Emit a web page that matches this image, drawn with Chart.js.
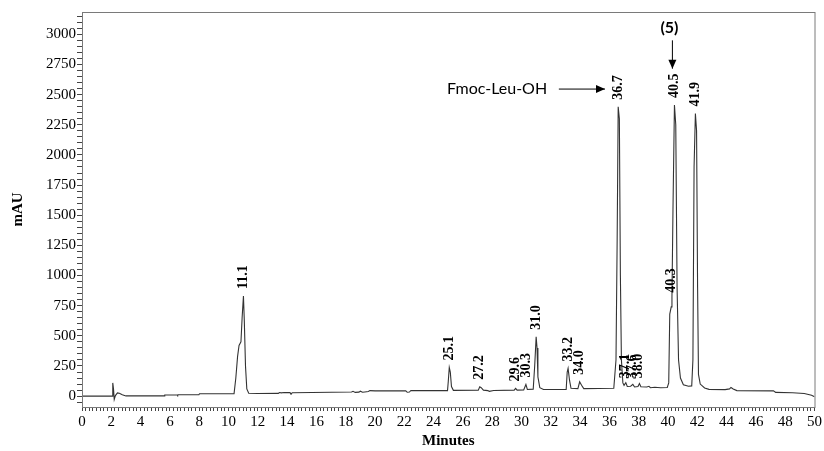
<!DOCTYPE html>
<html>
<head>
<meta charset="utf-8">
<script src="https://cdn.jsdelivr.net/npm/chart.js@4.4.0/dist/chart.umd.min.js"></script>
<style>
  html, body { margin: 0; padding: 0; background: #fff; }
</style>
</head>
<body>
<canvas id="chrom" width="824" height="451"></canvas>
<script>
// chromatogram trace (minutes / mAU)
const times = [
  0, 2.05, 2.1, 2.15, 2.2, 2.28, 2.42, 2.55, 2.75, 3.0,
  5.6, 5.65, 6.5, 6.53, 6.56, 7.98, 8.02, 10.38, 10.5, 10.62,
  10.72, 10.85, 10.93, 11.02, 11.08, 11.16, 11.25, 11.38, 12.0, 13.4,
  13.48, 13.6, 13.8, 14.2, 14.27, 14.35, 18.4, 18.5, 18.65, 18.9,
  19.0, 19.15, 19.3, 19.55, 19.65, 20.0, 22.1, 22.2, 22.35, 22.45,
  24.95, 25.0, 25.07, 25.14, 25.22, 25.35, 27.05, 27.15, 27.25, 27.4,
  27.7, 27.8, 28.1, 29.5, 29.6, 29.7, 30.15, 30.3, 30.4, 30.8,
  30.9, 31.0, 31.06, 31.12, 31.25, 31.5, 33.05, 33.12, 33.18, 33.28,
  33.38, 33.85, 33.97, 34.1, 34.25, 36.3, 36.45, 36.53, 36.6, 36.68,
  36.75, 36.82, 36.92, 37.0, 37.12, 37.22, 37.45, 37.6, 37.72, 37.95,
  38.05, 38.15, 38.55, 38.7, 38.8, 39.1, 39.5, 39.95, 40.05, 40.12,
  40.22, 40.27, 40.34, 40.44, 40.53, 40.62, 40.72, 40.85, 41.05, 41.4,
  41.62, 41.7, 41.78, 41.87, 41.95, 42.02, 42.08, 42.2, 42.5, 42.8,
  43.9, 44.2, 44.3, 44.45, 44.7, 47.2, 47.35, 48.5, 49.3, 49.8,
  50
];
const mAU = [
  0, 0, 110, 60, -28, 5, 27, 24, 12, 2,
  2, 10, 10, 6, 11, 12, 20, 21, 150, 330,
  420, 450, 650, 830, 620, 250, 60, 24, 22, 23,
  30, 27, 30, 29, 16, 28, 34, 40, 31, 33,
  41, 32, 34, 38, 46, 44, 44, 32, 34, 47,
  46, 120, 238, 200, 80, 48, 50, 77, 70, 50,
  46, 40, 47, 50, 64, 50, 52, 97, 55, 58,
  250, 492, 400, 160, 70, 55, 56, 200, 230, 130,
  65, 62, 119, 90, 62, 66, 300, 1300, 2399, 2300,
  1000, 300, 110, 90, 112, 80, 82, 98, 76, 80,
  105, 78, 76, 82, 70, 74, 70, 72, 110, 680,
  740, 820, 1550, 2413, 2250, 900, 300, 150, 95, 82,
  85, 300, 1900, 2344, 2200, 900, 180, 100, 68, 56,
  54, 60, 72, 60, 46, 44, 31, 28, 22, 8,
  -5
];

// peak labels
const peakLabels = ['11.1', '25.1', '27.2', '29.6', '30.3', '31.0', '33.2', '34.0', '36.7', '37.1', '37.6', '38.0', '40.3', '40.5', '41.9'];
const peakTimes = [11.02, 25.07, 27.15, 29.6, 30.3, 31.0, 33.18, 33.97, 36.62, 37.1, 37.6, 38.0, 40.22, 40.45, 41.87];
const peakHeights = [830, 238, 77, 64, 97, 492, 230, 119, 2399, 90, 85, 90, 800, 2413, 2344];

// axis ticks
const xTicks = [0, 2, 4, 6, 8, 10, 12, 14, 16, 18, 20, 22, 24, 26, 28, 30, 32, 34, 36, 38, 40, 42, 44, 46, 48, 50];
const yTicks = [0, 250, 500, 750, 1000, 1250, 1500, 1750, 2000, 2250, 2500, 2750, 3000];

const serif = '"Liberation Serif", "Times New Roman", serif';

function minorTicks(from, to, step) {
  const out = [];
  for (let i = 0; from + i * step <= to + 1e-9; i++) {
    out.push({ value: +(from + i * step).toFixed(4) });
  }
  return out;
}

const frame = {
  id: 'frame',
  afterDatasetsDraw(chart) {
    const { ctx, chartArea: a } = chart;
    ctx.save();
    ctx.strokeStyle = '#7a7a7a';
    ctx.lineWidth = 1;
    ctx.strokeRect(a.left + 0.5, a.top + 0.5, a.right - a.left, a.bottom - a.top);
    ctx.restore();
  }
};

function arrow(ctx, x1, y1, x2, y2) {
  const ang = Math.atan2(y2 - y1, x2 - x1);
  ctx.beginPath();
  ctx.moveTo(x1, y1);
  ctx.lineTo(x2, y2);
  ctx.stroke();
  ctx.beginPath();
  ctx.moveTo(x2, y2);
  ctx.lineTo(x2 - 9 * Math.cos(ang) + 4 * Math.sin(ang), y2 - 9 * Math.sin(ang) - 4 * Math.cos(ang));
  ctx.lineTo(x2 - 9 * Math.cos(ang) - 4 * Math.sin(ang), y2 - 9 * Math.sin(ang) + 4 * Math.cos(ang));
  ctx.closePath();
  ctx.fill();
}

const peakText = {
  id: 'peakText',
  afterDatasetsDraw(chart) {
    const { ctx, scales: { x, y } } = chart;
    ctx.save();
    ctx.fillStyle = '#000';
    ctx.font = 'bold 14px ' + serif;
    ctx.textAlign = 'left';
    ctx.textBaseline = 'middle';
    peakLabels.forEach((lab, i) => {
      const px = x.getPixelForValue(peakTimes[i]);
      const py = y.getPixelForValue(peakHeights[i]) - 7;
      ctx.save();
      ctx.translate(px, py);
      ctx.rotate(-Math.PI / 2);
      ctx.fillText(lab, 0, 0);
      ctx.restore();
    });

    // compound callouts
    ctx.strokeStyle = '#000';
    ctx.lineWidth = 1;
    ctx.font = '16px Lato, "Noto Sans", sans-serif';
    ctx.textAlign = 'right';
    ctx.fillText('Fmoc-Leu-OH', x.getPixelForValue(31.75), y.getPixelForValue(2546));
    arrow(ctx, x.getPixelForValue(32.55), y.getPixelForValue(2546), x.getPixelForValue(35.7), y.getPixelForValue(2546));

    ctx.font = 'bold 16px Lato, "Noto Sans", sans-serif';
    ctx.textAlign = 'center';
    ctx.fillText('(5)', x.getPixelForValue(40.1), y.getPixelForValue(3050));
    arrow(ctx, x.getPixelForValue(40.3), y.getPixelForValue(2950), x.getPixelForValue(40.3), y.getPixelForValue(2715));
    ctx.restore();
  }
};

new Chart(document.getElementById('chrom'), {
  type: 'line',
  data: {
    datasets: [{
      data: times.map((t, i) => ({ x: t, y: mAU[i] })),
      borderColor: '#333',
      borderWidth: 1.1,
      pointRadius: 0,
      tension: 0,
      fill: false,
    }]
  },
  options: {
    responsive: false,
    animation: false,
    layout: { padding: { top: 12, right: 9, left: 0, bottom: 0 } },
    plugins: { legend: { display: false }, tooltip: { enabled: false } },
    scales: {
      x: {
        type: 'linear',
        min: 0,
        max: 50,
        afterBuildTicks: (axis) => { axis.ticks = minorTicks(0, 50, 0.25); },
        afterFit: (axis) => { axis.height = 44; },
        grid: { drawOnChartArea: false, tickLength: 4, tickColor: '#444' },
        border: { color: '#7a7a7a' },
        ticks: {
          autoSkip: false,
          maxRotation: 0,
          padding: 2,
          color: '#000',
          font: { family: serif, size: 15 },
          callback: (v) => (xTicks.includes(Math.round(v * 100) / 100) ? String(v) : ''),
        },
        title: {
          display: true,
          text: 'Minutes',
          color: '#000',
          font: { family: serif, size: 15, weight: 'bold' },
          padding: { top: 0, bottom: 1 },
        },
      },
      y: {
        min: -90,
        max: 3185,
        afterBuildTicks: (axis) => { axis.ticks = minorTicks(-50, 3150, 50); },
        afterFit: (axis) => { axis.width = 82; },
        grid: { drawOnChartArea: false, tickLength: 5, tickColor: '#444' },
        border: { color: '#7a7a7a' },
        ticks: {
          autoSkip: false,
          padding: 1,
          color: '#000',
          font: { family: serif, size: 15 },
          callback: (v) => (yTicks.includes(v) ? String(v) : ''),
        },
        title: {
          display: true,
          text: 'mAU',
          color: '#000',
          font: { family: serif, size: 15, weight: 'bold' },
          padding: { top: 9, bottom: 0 },
        },
      },
    },
  },
  plugins: [frame, peakText],
});
</script>
</body>
</html>
